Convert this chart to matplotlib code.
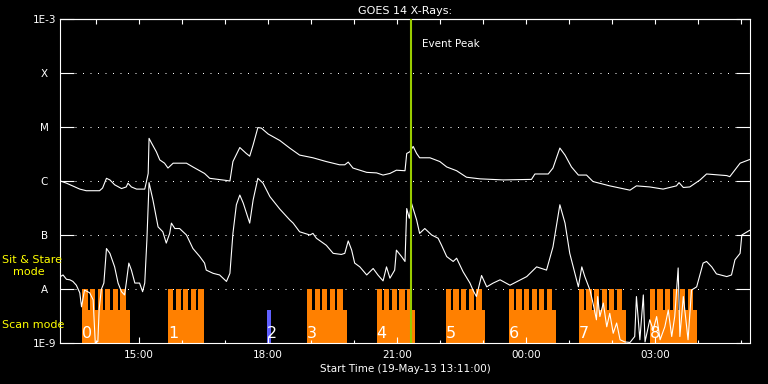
import matplotlib
matplotlib.use("Agg")
import matplotlib.pyplot as plt
import matplotlib.transforms as mtransforms
from matplotlib.ticker import NullLocator
import numpy as np

# GOES 14 X-ray flux, 19-May-13 13:11 -> 20-May-13 05:12
# time = hours since 00:00 on 19 May, flux given as log10(W/m^2)
long_time = [
    13.18, 13.32, 13.63, 13.78, 14.09, 14.16, 14.25, 14.33, 14.44, 14.60,
    14.71, 14.75, 14.83, 14.95, 15.14, 15.18, 15.22, 15.24, 15.30, 15.41,
    15.49, 15.60, 15.68, 15.80, 16.11, 16.26, 16.53, 16.65, 17.04, 17.12,
    17.19, 17.35, 17.50, 17.58, 17.66, 17.77, 17.85, 18.01, 18.28, 18.51,
    18.74, 19.05, 19.36, 19.67, 19.79, 19.87, 19.98, 20.30, 20.53, 20.68,
    20.84, 20.99, 21.19, 21.23, 21.30, 21.38, 21.46, 21.53, 21.77, 22.00,
    22.16, 22.39, 22.62, 22.93, 23.47, 24.13, 24.21, 24.52, 24.63, 24.79,
    24.91, 25.06, 25.22, 25.41, 25.56, 25.95, 26.42, 26.57, 26.88, 27.19,
    27.50, 27.56, 27.66, 27.81, 28.05, 28.20, 28.67, 28.74, 28.98, 29.21,
]
long_log_flux = [
    -6.00, -6.04, -6.15, -6.18, -6.18, -6.13, -5.95, -5.98, -6.07, -6.14,
    -6.11, -6.04, -6.11, -6.15, -6.15, -6.01, -5.86, -5.21, -5.30, -5.46,
    -5.61, -5.67, -5.76, -5.67, -5.67, -5.74, -5.86, -5.95, -5.99, -6.00,
    -5.64, -5.38, -5.49, -5.54, -5.33, -5.01, -5.02, -5.13, -5.25, -5.39,
    -5.52, -5.57, -5.64, -5.70, -5.70, -5.65, -5.76, -5.84, -5.85, -5.89,
    -5.86, -5.80, -5.81, -5.49, -5.46, -5.36, -5.49, -5.57, -5.57, -5.64,
    -5.74, -5.81, -5.93, -5.96, -5.98, -5.97, -5.87, -5.87, -5.76, -5.39,
    -5.52, -5.74, -5.89, -5.89, -6.01, -6.09, -6.17, -6.09, -6.11, -6.15,
    -6.09, -6.03, -6.12, -6.11, -5.98, -5.87, -5.90, -5.92, -5.67, -5.60,
]

short_time = [
    13.18, 13.24, 13.32, 13.40, 13.47, 13.55, 13.63, 13.67, 13.74, 13.86,
    13.94, 13.99, 14.05, 14.08, 14.13, 14.19, 14.25, 14.33, 14.44, 14.52,
    14.60, 14.67, 14.71, 14.77, 14.83, 14.91, 15.02, 15.09, 15.14, 15.19,
    15.24, 15.33, 15.45, 15.56, 15.64, 15.72, 15.76, 15.84, 15.95, 16.11,
    16.26, 16.42, 16.53, 16.57, 16.73, 16.88, 17.04, 17.12, 17.19, 17.27,
    17.35, 17.43, 17.58, 17.66, 17.77, 17.89, 18.05, 18.28, 18.51, 18.59,
    18.74, 18.98, 19.05, 19.13, 19.36, 19.52, 19.71, 19.79, 19.87, 19.95,
    20.02, 20.14, 20.30, 20.45, 20.56, 20.68, 20.76, 20.84, 20.95, 20.99,
    21.11, 21.19, 21.23, 21.26, 21.29, 21.34, 21.46, 21.53, 21.65, 21.81,
    21.96, 22.04, 22.16, 22.31, 22.39, 22.54, 22.70, 22.77, 22.85, 22.97,
    23.09, 23.24, 23.40, 23.63, 24.02, 24.25, 24.48, 24.63, 24.79, 24.91,
    25.02, 25.18, 25.22, 25.30, 25.37, 25.49, 25.56, 25.64, 25.67, 25.72,
    25.80, 25.88, 25.95, 26.03, 26.11, 26.19, 26.30, 26.42, 26.53, 26.57,
    26.65, 26.73, 26.77, 26.88, 26.96, 27.04, 27.12, 27.23, 27.31, 27.39,
    27.46, 27.54, 27.58, 27.66, 27.77, 27.85, 27.97, 28.12, 28.20, 28.32,
    28.43, 28.67, 28.78, 28.86, 28.98, 29.02, 29.21,
]
short_log_flux = [
    -7.77, -7.74, -7.82, -7.83, -7.86, -7.93, -8.07, -8.33, -8.02, -8.07,
    -8.20, -9.00, -8.97, -8.38, -8.01, -7.89, -7.25, -7.34, -7.59, -7.89,
    -8.05, -8.11, -7.89, -7.52, -7.65, -7.89, -7.89, -8.05, -7.89, -7.09,
    -6.03, -6.35, -6.85, -6.94, -7.15, -6.97, -6.78, -6.88, -6.88, -7.00,
    -7.25, -7.40, -7.52, -7.65, -7.71, -7.74, -7.86, -7.71, -6.97, -6.44,
    -6.26, -6.41, -6.78, -6.35, -5.95, -6.04, -6.29, -6.52, -6.72, -6.78,
    -6.94, -7.00, -6.97, -7.06, -7.19, -7.34, -7.36, -7.34, -7.11, -7.28,
    -7.52, -7.59, -7.74, -7.62, -7.74, -7.85, -7.59, -7.80, -7.65, -7.28,
    -7.40, -7.49, -6.51, -6.60, -6.69, -6.41, -6.72, -6.97, -6.88, -7.00,
    -7.06, -7.19, -7.40, -7.49, -7.43, -7.68, -7.89, -8.02, -8.14, -7.75,
    -7.96, -7.89, -7.83, -7.93, -7.77, -7.59, -7.65, -7.22, -6.44, -6.78,
    -7.34, -7.83, -7.96, -7.59, -7.77, -8.02, -8.26, -8.57, -8.14, -8.51,
    -8.26, -8.70, -8.45, -8.82, -8.63, -8.94, -8.98, -8.99, -8.88, -8.14,
    -8.94, -8.11, -8.98, -8.57, -8.76, -8.51, -8.94, -8.70, -8.39, -8.88,
    -8.51, -7.61, -8.88, -8.14, -8.94, -8.02, -7.96, -7.52, -7.49, -7.59,
    -7.72, -7.77, -7.74, -7.46, -7.34, -7.00, -6.91,
]

event_peak = 21.34

# scan mode rasters (orange): start / end in hours, number of raster steps
scan_labels = ["0", "1", "3", "4", "5", "6", "7", "8"]
scan_start = [13.69, 15.68, 18.91, 20.53, 22.14, 23.60, 25.23, 26.88]
scan_end = [14.79, 16.51, 19.84, 21.43, 23.05, 24.69, 26.32, 27.97]
scan_steps = [6, 5, 5, 5, 5, 6, 6, 6]
step_period = 0.177
step_width = 0.122

# the short blue observation (#2)
blue_label = "2"
blue_start = 17.99
blue_end = 18.07

level_values = [1e-9, 1e-8, 1e-7, 1e-6, 1e-5, 1e-4, 1e-3]
level_labels = ["1E-9", "A", "B", "C", "M", "X", "1E-3"]
hour_ticks = [15, 18, 21, 24, 27]
hour_labels = ["15:00", "18:00", "21:00", "00:00", "03:00"]

W, H = 768, 384
fig = plt.figure(figsize=(W / 100, H / 100), dpi=100, facecolor="black")
ax = fig.add_axes([60 / W, 41 / H, 690 / W, 324 / H], facecolor="black")
ax.set_yscale("log")
ax.set_ylim(1e-9, 1e-3)
ax.set_xlim(13.17, 29.21)

for s in ax.spines.values():
    s.set_color("white")
    s.set_linewidth(0.8)

# y axis: flare classes
ax.set_yticks(level_values)
ax.set_yticklabels(level_labels)
ax.yaxis.set_minor_locator(NullLocator())
ax.tick_params(axis="y", which="major", direction="in", length=10, width=0.8,
               colors="white", left=True, right=True, labelsize=7.5, pad=11.2)
for lab in ax.get_yticklabels():
    lab.set_horizontalalignment("center")

# x axis: hours
ax.set_xticks(hour_ticks)
ax.set_xticklabels(hour_labels)
ax.set_xticks(range(14, 30), minor=True)
ax.tick_params(axis="x", which="major", direction="in", length=4.3, width=0.8,
               colors="white", labelsize=7.5, pad=5)
ax.tick_params(axis="x", which="minor", direction="in", length=2.2, width=0.8,
               colors="white")

top = ax.secondary_xaxis("top")
top.set_xticks(range(14, 30))
top.tick_params(direction="in", length=3.6, width=0.8, colors="white",
                labeltop=False)
top.spines["top"].set_color("white")
top.spines["top"].set_linewidth(0.8)

# dotted class levels
for lvl in level_values[1:-1]:
    ax.axhline(lvl, color="white", lw=0.72, ls=(0, (1, 6.5)), zorder=0.5)

# raster blocks, y in axes fraction
low_top = 33 / 324
tooth_top = 1 / 6
for lab, t0, t1, n in zip(scan_labels, scan_start, scan_end, scan_steps):
    ax.axvspan(t0, t1, ymin=0, ymax=low_top, color="#ff8000", lw=0, zorder=1)
    for k in range(n):
        x0 = t0 + k * step_period
        ax.axvspan(x0, x0 + step_width, ymin=low_top, ymax=tooth_top,
                   color="#ff8000", lw=0, zorder=1)
ax.axvspan(blue_start, blue_end, ymin=0, ymax=low_top, color="#6060ff", lw=0,
           zorder=1)

trans = mtransforms.blended_transform_factory(ax.transData, ax.transAxes)
for lab, t0 in zip(scan_labels + [blue_label], scan_start + [blue_start]):
    ax.text(t0, 0.0154, lab, transform=trans, color="white", fontsize=11.5,
            ha="left", va="baseline", zorder=5)

# flux curves
ax.plot(long_time, np.power(10.0, long_log_flux), color="white", lw=0.8,
        zorder=3)
ax.plot(short_time, np.power(10.0, short_log_flux), color="white", lw=0.8,
        zorder=3)

ax.axvline(event_peak, color="#99cc00", lw=1.5, zorder=4)
ax.text(event_peak + 0.245, (343 - 46.7) / 324, "Event Peak", transform=trans,
        color="white", fontsize=7.5, ha="left", va="baseline", zorder=5)

fig.text(405 / W, 1 - 14 / H, "GOES 14 X-Rays:", color="white", fontsize=8,
         ha="center", va="baseline")
fig.text(405 / W, 1 - 372 / H, "Start Time (19-May-13 13:11:00)", color="white",
         fontsize=7.5, ha="center", va="baseline")

fig.text(2 / W, 1 - 263 / H, "Sit & Stare", color="yellow", fontsize=8,
         va="baseline")
fig.text(13 / W, 1 - 275 / H, "mode", color="yellow", fontsize=8,
         va="baseline")
fig.text(2 / W, 1 - 328 / H, "Scan mode", color="yellow", fontsize=8,
         va="baseline")

fig.savefig("out.png", dpi=100, facecolor="black")
